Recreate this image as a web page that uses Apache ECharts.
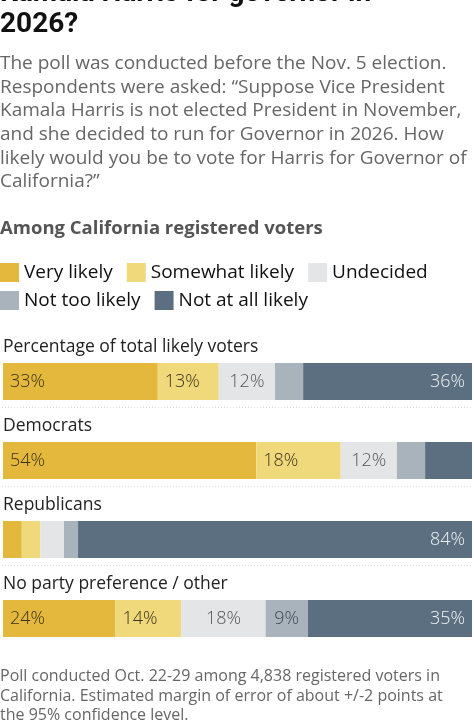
<!DOCTYPE html>
<html>
<head>
<meta charset="utf-8">
<script src="https://cdn.jsdelivr.net/npm/echarts@6/dist/echarts.min.js"></script>
<style>
html, body { margin: 0; padding: 0; background: #fff; }
#chart { width: 474px; height: 720px; }
</style>
</head>
<body>
<div id="chart"></div>
<script>
// poll groups (rows) and answer categories (stack order)
var groups = ['Percentage of total likely voters', 'Democrats', 'Republicans', 'No party preference / other'];
var responses = ['Very likely', 'Somewhat likely', 'Undecided', 'Not too likely', 'Not at all likely'];

var veryLikely = [33, 54, 4, 24];
var somewhatLikely = [13, 18, 4, 14];
var undecided = [12, 12, 5, 18];
var notTooLikely = [6, 6, 3, 9];
var notAtAllLikely = [36, 10, 84, 35];

// which rows print a value inside the segment
var labelledRows = [[0, 1, 3], [0, 1, 3], [0, 1, 3], [3], [0, 2, 3]];

var values = [veryLikely, somewhatLikely, undecided, notTooLikely, notAtAllLikely];
var colors = ['#e3b83c', '#f0d97a', '#e4e5e7', '#a8b3bc', '#5c6f80'];
var labelColors = ['#3b3218', '#3b3320', '#555555', '#3e4a55', '#eef2f5'];
var labelPos = ['insideLeft', 'insideLeft', 'inside', 'inside', 'insideRight'];

var FONT = '"Open Sans"';

var series = responses.map(function (name, i) {
    return {
        name: name,
        type: 'bar',
        stack: 'all',
        barWidth: 37,
        itemStyle: { color: colors[i] },
        emphasis: { disabled: true },
        label: {
            show: true,
            position: labelPos[i],
            distance: 7,
            fontFamily: FONT,
            fontSize: 18,
            fontWeight: 300,
            color: labelColors[i],
            formatter: function (p) {
                return labelledRows[i].indexOf(p.dataIndex) >= 0 ? p.value + '%' : '';
            }
        },
        data: values[i]
    };
});

var subtitle = 'The poll was conducted before the Nov. 5 election.\n' +
    'Respondents were asked: \u201cSuppose Vice President\n' +
    'Kamala Harris is not elected President in November,\n' +
    'and she decided to run for Governor in 2026. How\n' +
    'likely would you be to vote for Harris for Governor of\n' +
    'California?\u201d';

var footnote = 'Poll conducted Oct. 22-29 among 4,838 registered voters in\n' +
    'California. Estimated margin of error of about +/-2 points at\n' +
    'the 95% confidence level.';

var legendText = { fontFamily: FONT, fontSize: 19, color: '#111' };

option = {
    backgroundColor: '#fff',
    animation: false,
    legend: [{
        data: responses.slice(0, 3),
        left: 0,
        top: 263,
        padding: 0,
        icon: 'rect',
        itemWidth: 19,
        itemHeight: 19,
        itemGap: 14,
        selectedMode: false,
        textStyle: legendText
    }, {
        data: responses.slice(3),
        left: 0,
        top: 291,
        padding: 0,
        icon: 'rect',
        itemWidth: 19,
        itemHeight: 19,
        itemGap: 14,
        selectedMode: false,
        textStyle: legendText
    }],
    grid: {
        left: 2,
        right: 2,
        top: 342,
        height: 316
    },
    xAxis: {
        type: 'value',
        min: 0,
        max: 100,
        show: false
    },
    yAxis: {
        type: 'category',
        inverse: true,
        data: groups,
        axisLine: { show: false },
        axisTick: { show: false },
        axisLabel: {
            inside: true,
            margin: 0,
            align: 'left',
            verticalAlign: 'bottom',
            padding: [0, 0, 25, 0],
            fontFamily: FONT,
            fontSize: 17.5,
            color: '#222'
        }
    },
    graphic: [{
        type: 'text',
        left: 0,
        top: -22,
        style: {
            text: 'Kamala Harris for governor in\n2026?',
            fontFamily: 'Roboto',
            fontSize: 28,
            fontWeight: 'bold',
            lineHeight: 31,
            fill: '#111'
        }
    }, {
        type: 'text',
        left: 0,
        top: 52,
        style: {
            text: subtitle,
            fontFamily: FONT,
            fontSize: 19,
            lineHeight: 23.6,
            fill: '#666'
        }
    }, {
        type: 'text',
        left: 0,
        top: 219,
        style: {
            text: 'Among California registered voters',
            fontFamily: FONT,
            fontSize: 18.5,
            fontWeight: 'bold',
            fill: '#555'
        }
    }, {
        type: 'text',
        left: 0,
        top: 667,
        style: {
            text: footnote,
            fontFamily: FONT,
            fontSize: 16,
            lineHeight: 19.5,
            fill: '#666'
        }
    }],
    series: series
};

var chart = echarts.init(document.getElementById('chart'));
chart.setOption(option);

// faint dotted rules under the first three bars
var rules = groups.slice(0, 3).map(function (g) {
    var y = chart.convertToPixel({ yAxisIndex: 0 }, g) + 26;
    return {
        type: 'line',
        shape: { x1: 2, y1: y, x2: 472, y2: y },
        style: { stroke: '#dcdcdc', lineWidth: 1, lineDash: [1, 2] }
    };
});
chart.setOption({ graphic: option.graphic.concat(rules) });
</script>
</body>
</html>
